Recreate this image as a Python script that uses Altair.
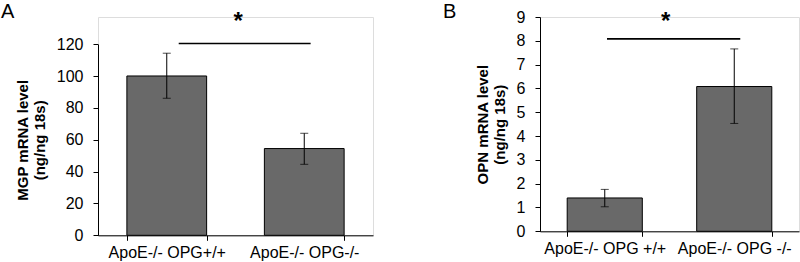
import altair as alt
import pandas as pd

# Panel A data
groups_a = ["ApoE-/- OPG+/+", "ApoE-/- OPG-/-"]
mgp_mean = [100.1, 54.5]
mgp_low = [86.1, 44.6]
mgp_high = [114.4, 64.1]
sig_a = 120.5
star_a = 129.4

# Panel B data
groups_b = ["ApoE-/- OPG +/+", "ApoE-/- OPG -/-"]
opn_mean = [1.40, 6.08]
opn_low = [1.03, 4.53]
opn_high = [1.76, 7.66]
sig_b = 8.08
star_b = 8.49

FONT = "Liberation Sans"
BAR = "#696969"


def panel(groups, mean, low, high, sig, star, ymax, ystep, ytitle, letter,
          width, height, yrange, sig_start, sig_end, star_dx):
    df = pd.DataFrame({"g": groups, "m": mean, "lo": low, "hi": high})
    xscale = alt.Scale(paddingInner=0.42, paddingOuter=0.21)
    xaxis = alt.Axis(labelAngle=0, labelFontSize=16, labelFont=FONT,
                     labelColor="black", domainColor="black",
                     tickColor="black", tickSize=5, labelPadding=4,
                     tickBand="extent", labelOverlap=False, title=None)
    yscale = alt.Scale(domain=[0, ymax], nice=False, range=yrange)
    yaxis = alt.Axis(values=list(range(0, ymax + 1, ystep)), grid=False,
                     labelOverlap=False,
                     labelFontSize=16, labelFont=FONT, labelColor="black",
                     domainColor="black", tickColor="black", tickSize=5,
                     title=ytitle, titleFont=FONT, titleFontSize=15,
                     titleFontWeight="bold", titleColor="black",
                     titleLineHeight=16.5, titlePadding=9, labelPadding=10)

    def X(field, **kw):
        return alt.X(field, sort=groups, scale=xscale, axis=xaxis, title=None, **kw)

    def Y(field):
        return alt.Y(field, scale=yscale, axis=yaxis, title=ytitle)

    base = alt.Chart(df)
    bars = base.mark_bar(color=BAR, stroke="black", strokeWidth=1).encode(
        x=X("g:N"), y=Y("m:Q"))
    err = base.mark_rule(color="black", strokeWidth=1).encode(
        x=X("g:N"), y=Y("lo:Q"), y2="hi:Q")
    cap_lo = base.mark_tick(color="black", size=8, thickness=1).encode(
        x=X("g:N"), y=Y("lo:Q"))
    cap_hi = base.mark_tick(color="black", size=8, thickness=1).encode(
        x=X("g:N"), y=Y("hi:Q"))
    sdf = pd.DataFrame({"a": [groups[0]], "b": [groups[1]], "v": [sig],
                        "s": [star], "t": ["*"], "L": [letter]})
    sigline = alt.Chart(sdf).mark_rule(color="black", strokeWidth=1.6, clip=False).encode(
        x=X("a:N", bandPosition=sig_start),
        x2=alt.X2("b:N", bandPosition=sig_end), y=Y("v:Q"))
    startext = alt.Chart(sdf).mark_text(fontSize=24, fontWeight="bold", font=FONT,
                                        baseline="alphabetic", dx=star_dx, clip=False,
                                        color="black").encode(
        x=X("a:N"), y=Y("s:Q"), text="t:N")
    lettertext = alt.Chart(sdf).mark_text(fontSize=20, font=FONT, align="left",
                                          baseline="top", color="black",
                                          clip=False).encode(
        x=alt.value(-97), y=alt.value(-14.7), text="L:N")
    return alt.layer(bars, err, cap_lo, cap_hi, sigline, startext, lettertext).properties(
        width=width, height=height)


pa = panel(groups_a, mgp_mean, mgp_low, mgp_high, sig_a, star_a, 120, 20,
           ["MGP mRNA level", "(ng/ng 18s)"], "A", 275, 218.3, [218.3, 27.3],
           0.65, 0.58, 71.5)
pb = panel(groups_b, opn_mean, opn_low, opn_high, sig_b, star_b, 9, 1,
           ["OPN mRNA level", "(ng/ng 18s)"], "B", 259, 214.3, [214.3, 0],
           0.53, 0.58, 61)

chart = alt.hconcat(pa, pb, spacing=68).properties(
    padding={"left": 0, "top": 1, "right": 0, "bottom": 0}
).configure_view(stroke="transparent").configure(background="white")

chart.save("out.html", embed_options={"renderer": "svg", "actions": False})
